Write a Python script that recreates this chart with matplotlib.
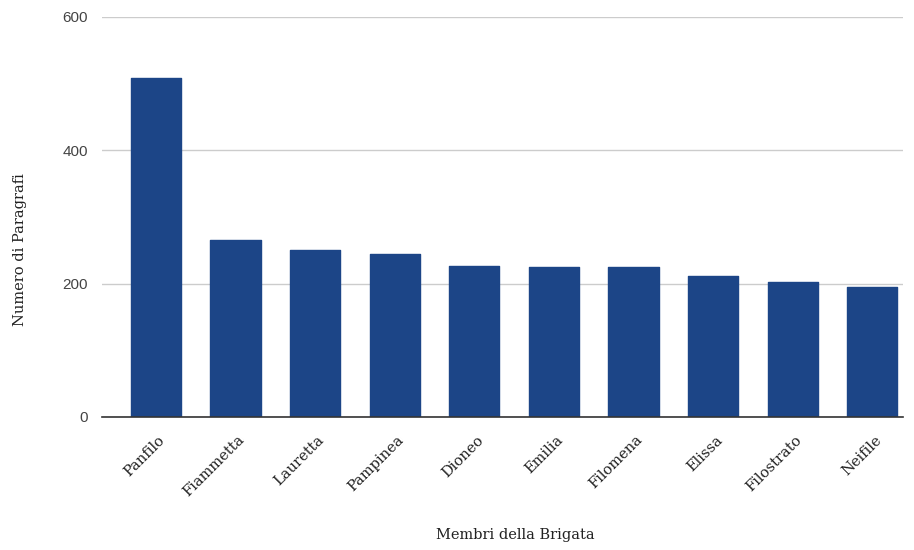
import matplotlib
matplotlib.use("Agg")
import matplotlib.pyplot as plt
import matplotlib.transforms as mtransforms

# Paragraph counts per member of the brigata
membri = ["Panfilo", "Fiammetta", "Lauretta", "Pampinea", "Dioneo",
          "Emilia", "Filomena", "Elissa", "Filostrato", "Neifile"]
paragrafi = [509, 266, 251, 244, 227, 225, 225, 212, 203, 195]
y_ticks = [0, 200, 400, 600]

BAR_COLOR = "#1c4587"
SERIF = "DejaVu Serif"

fig = plt.figure(figsize=(9.14, 5.5), dpi=100)
ax = fig.add_axes([102 / 914, 1 - 417 / 550, 801 / 914, 400 / 550])

x = list(range(len(membri)))
ax.bar(x, paragrafi, width=0.63, color=BAR_COLOR, edgecolor=BAR_COLOR,
       linewidth=1.0, joinstyle="round", zorder=3)

ax.set_xlim(-0.678, 9.385)
ax.set_ylim(0, 600)
ax.set_yticks(y_ticks)
ax.set_yticklabels([str(v) for v in y_ticks], fontfamily="Liberation Sans",
                   fontsize=11, color="#444444")
ax.tick_params(axis="y", length=0, pad=10)
ax.grid(axis="y", color="#cccccc", linewidth=1, zorder=0)
ax.set_axisbelow(True)

for side in ("left", "right", "top"):
    ax.spines[side].set_visible(False)
ax.spines["bottom"].set_color("#333333")
ax.spines["bottom"].set_linewidth(1.2)
ax.spines["bottom"].set_zorder(4)

ax.set_xticks(x)
ax.set_xticklabels(membri, rotation=45, ha="right", va="center",
                   rotation_mode="anchor", fontfamily=SERIF,
                   fontsize=10.5, color="#222222")
ax.tick_params(axis="x", length=0, pad=15)
shift = mtransforms.ScaledTranslation(7 / 100, 0, fig.dpi_scale_trans)
for lbl in ax.get_xticklabels():
    lbl.set_transform(lbl.get_transform() + shift)

fig.text(515 / 914, 1 - 535 / 550, "Membri della Brigata", ha="center",
         va="center", fontfamily=SERIF, fontsize=10.5, color="#222222")
fig.text(20 / 914, 1 - 250 / 550, "Numero di Paragrafi", ha="center",
         va="center", rotation=90, fontfamily=SERIF,
         fontsize=10.5, color="#222222")

fig.savefig("out.png", dpi=100, facecolor="white")
